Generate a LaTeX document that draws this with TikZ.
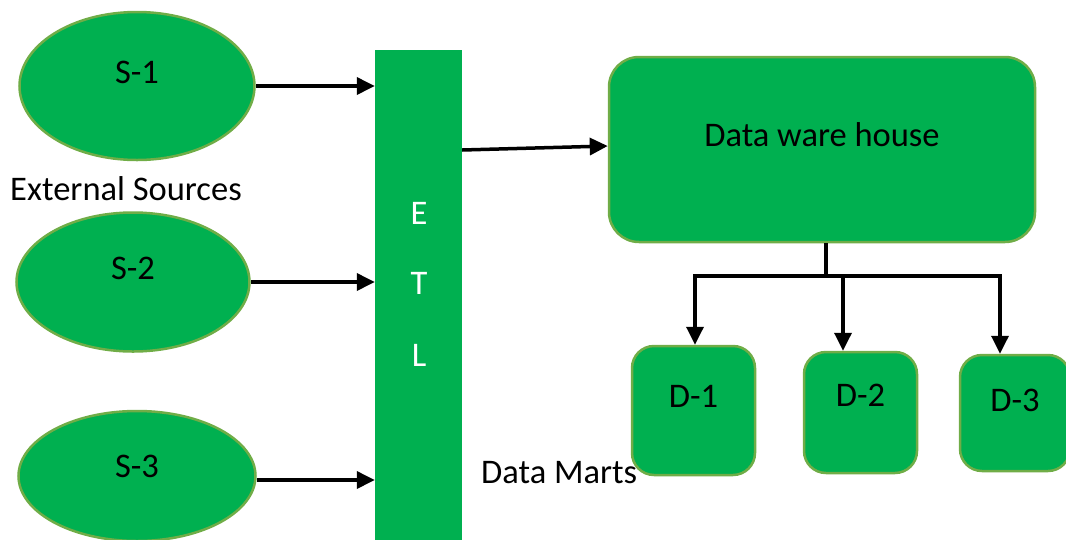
\documentclass[tikz,border=0pt]{standalone}
\usepackage{fontspec}
\setmainfont{Carlito}
\usetikzlibrary{shapes.geometric,arrows.meta}
\definecolor{boxgreen}{HTML}{00B050}
\definecolor{edgegreen}{HTML}{70AD47}
\tikzset{
  src/.style={ellipse, fill=boxgreen, draw=edgegreen, line width=2.5pt, inner sep=0pt},
  rbox/.style={rectangle, fill=boxgreen, draw=edgegreen, line width=2.5pt, inner sep=0pt},
  flow/.style={line width=3.5pt, -{Triangle[length=18pt,width=17pt]}},
  plain/.style={line width=3.5pt},
  lbl/.style={font=\fontsize{34.5}{40}\selectfont, text=black},
}
\begin{document}
\begin{tikzpicture}[x=1pt,y=-1pt]
\useasboundingbox (0,0) rectangle (1066,539);

% external sources
\node[src, minimum width=235pt, minimum height=148pt,
  label={[lbl,yshift=14pt]center:S-1}] (s1) at (137,86) {};
\node[src, minimum width=233pt, minimum height=139pt,
  label={[lbl,yshift=14pt]center:S-2}] (s2) at (133,282) {};
\node[src, minimum width=237pt, minimum height=130pt,
  label={[lbl,yshift=10pt]center:S-3}] (s3) at (137,476) {};
\node[lbl, anchor=west, inner sep=0pt] (ext) at (10,189) {External Sources};

% ETL column
\node[rectangle, fill=boxgreen, minimum width=87pt, minimum height=490pt,
  inner sep=0pt] (etl) at (418.5,295) {};
\node[lbl, text=white] (e) at (419,213) {E};
\node[lbl, text=white] (t) at (419,283) {T};
\node[lbl, text=white] (l) at (419,355) {L};

% warehouse and marts
\node[rbox, rounded corners=30pt, minimum width=426pt, minimum height=185pt,
  label={[lbl,yshift=15pt]center:Data ware house}] (dw) at (822,149.5) {};
\node[rbox, rounded corners=22pt, minimum width=123pt, minimum height=129pt,
  label={[lbl,yshift=14pt]center:D-1}] (d1) at (693.5,410.5) {};
\node[rbox, rounded corners=22pt, minimum width=113pt, minimum height=121pt,
  label={[lbl,yshift=17pt]center:D-2}] (d2) at (860.5,412.5) {};
\node[rbox, rounded corners=22pt, minimum width=110pt, minimum height=116pt,
  label={[lbl,yshift=13pt]center:D-3}] (d3) at (1015,413) {};
\node[lbl, anchor=west, inner sep=0pt] (marts) at (481,473) {Data Marts};

% flows into and out of ETL
\draw[flow] (s1.east) -- (s1.east -| etl.west);
\draw[flow] (s2.east) -- (s2.east -| etl.west);
\draw[flow] (s3.east |- 0,480) -- (etl.west |- 0,480);
\draw[flow] (etl.east |- 0,150) -- (dw.west |- 0,146);

% distribution to data marts
\coordinate (split) at (826,276);
\coordinate (b1) at (695,276);
\coordinate (b2) at (843,276);
\coordinate (b3) at (1000,276);
\draw[plain] (dw.south -| split) -- (split);
\draw[plain, line cap=rect] (b1) -- (b3);
\draw[flow] (b1) -- (b1 |- d1.north);
\draw[flow] (b2) -- (b2 |- d2.north);
\draw[flow] (b3) -- (b3 |- d3.north);
\end{tikzpicture}
\end{document}
